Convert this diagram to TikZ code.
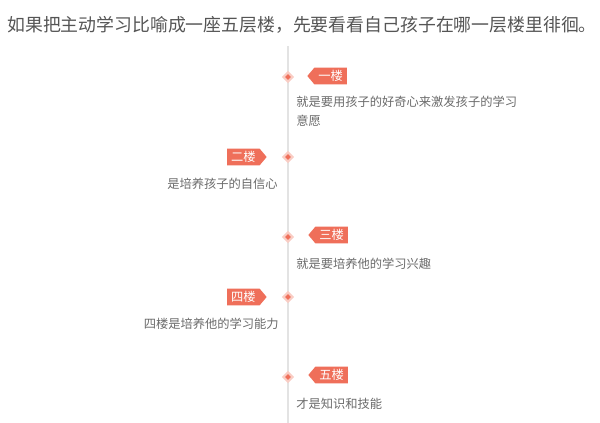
\documentclass[tikz,border=0pt]{standalone}
\usepackage{fontspec}
\setmainfont{Noto Sans CJK SC}
\usetikzlibrary{shapes.geometric,shapes.symbols}
\definecolor{tagred}{HTML}{EF6F5A}
\definecolor{dotpale}{HTML}{F9CDC4}
\definecolor{linegray}{HTML}{E3E3E3}
\definecolor{headgray}{HTML}{555555}
\definecolor{textgray}{HTML}{6A6A6A}
\begin{document}
\begin{tikzpicture}[x=0.75pt,y=-0.75pt,
  outerdot/.style={diamond,fill=dotpale,inner sep=0pt,minimum size=9.5pt},
  innerdot/.style={diamond,fill=tagred,inner sep=0pt,minimum size=4.5pt},
  tagleft/.style={signal,signal to=west,signal pointer angle=100,fill=tagred,text=white,
    font=\fontsize{9.2}{9}\selectfont,inner xsep=3pt,inner ysep=1pt,minimum height=12.5pt,anchor=west},
  tagright/.style={tagleft,signal to=east,anchor=east},
  note/.style={text=textgray,font=\fontsize{9.2}{14}\selectfont,inner sep=0pt}]
\useasboundingbox (0,0) rectangle (600,423);
\node[anchor=west,text=headgray,font=\fontsize{13.4}{14}\selectfont,inner sep=0pt] (head) at (7,25)
  {如果把主动学习比喻成一座五层楼，先要看看自己孩子在哪一层楼里徘徊。};
% timeline
\coordinate (top) at (288,46);
\coordinate (bot) at (288,423);
\draw[linegray,line width=1.5pt] (top) -- (bot);
% floor 1
\node[outerdot] (d1) at (288,77) {};
\node[innerdot] at (d1) {};
\node[tagleft] (t1) at (307,76) {一楼};
\node[note,anchor=north west,align=left] (n1) at (296,96) {就是要用孩子的好奇心来激发孩子的学习\\意愿};
% floor 2
\node[outerdot] (d2) at (288,157) {};
\node[innerdot] at (d2) {};
\node[tagright] (t2) at (267,157) {二楼};
\node[note,anchor=east] (n2) at (278,184) {是培养孩子的自信心};
% floor 3
\node[outerdot] (d3) at (288,237) {};
\node[innerdot] at (d3) {};
\node[tagleft] (t3) at (308,235) {三楼};
\node[note,anchor=west] (n3) at (296,264) {就是要培养他的学习兴趣};
% floor 4
\node[outerdot] (d4) at (288,297) {};
\node[innerdot] at (d4) {};
\node[tagright] (t4) at (267,297) {四楼};
\node[note,anchor=east] (n4) at (279,324) {四楼是培养他的学习能力};
% floor 5
\node[outerdot] (d5) at (288,377) {};
\node[innerdot] at (d5) {};
\node[tagleft] (t5) at (308,375) {五楼};
\node[note,anchor=west] (n5) at (296,404) {才是知识和技能};
\end{tikzpicture}
\end{document}
